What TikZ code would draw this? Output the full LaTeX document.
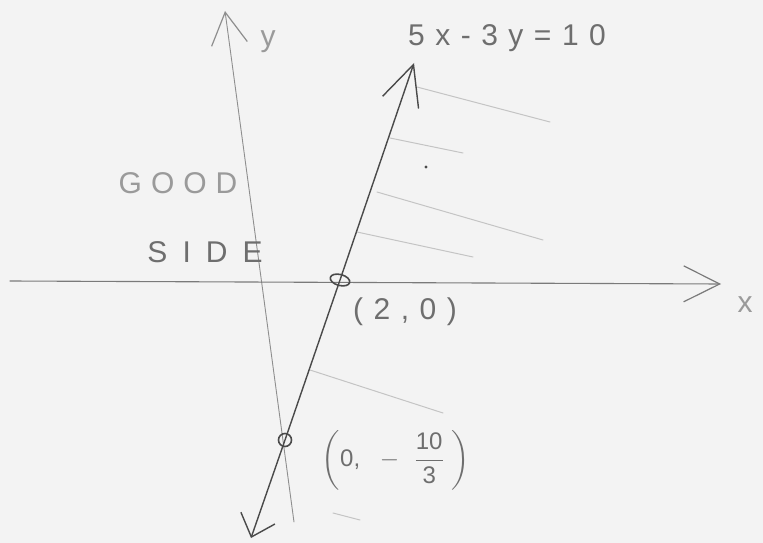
\documentclass[tikz,border=0pt]{standalone}
\usepackage{fontspec}
\usepackage{amsmath}
\setmainfont{Liberation Sans}
\usetikzlibrary{arrows.meta,shapes.geometric}
\definecolor{paper}{HTML}{F3F3F3}
\definecolor{pencil}{HTML}{4A4A4A}
\definecolor{axisgray}{HTML}{7A7A7A}
\definecolor{yaxisgray}{HTML}{8E8E8E}
\definecolor{hatchgray}{HTML}{C4C4C4}
\definecolor{textgray}{HTML}{6E6E6E}
\definecolor{lighttext}{HTML}{9A9A9A}
\begin{document}
\begin{tikzpicture}[x=1pt,y=-1pt,
  xaxisline/.style={draw=axisgray,line width=1.1pt,line cap=round},
  yaxisline/.style={draw=yaxisgray,line width=0.9pt,line cap=round},
  mainline/.style={draw=pencil,line width=1.4pt,line cap=round},
  hatchline/.style={draw=hatchgray,line width=1pt,line cap=round},
  ptmark/.style={ellipse,draw=pencil,line width=1.6pt,inner sep=0pt},
  lbl/.style={inner sep=0pt,font=\fontsize{30}{32}\selectfont\addfontfeatures{LetterSpace=35}},
  ybarb/.tip={Straight Barb[length=32pt,width=36pt,line width=1.2pt]},
  xbarb/.tip={Straight Barb[length=36pt,width=36pt,line width=1.2pt]},
  topbarb/.tip={Straight Barb[length=40pt,width=38pt,line width=1.4pt]},
  botbarb/.tip={Straight Barb[length=20pt,width=36pt,line width=1.4pt]}
]
\fill[paper] (0,0) rectangle (763,543);
\useasboundingbox (0,0) rectangle (763,543);

% coordinates
\coordinate (ytop) at (225,11);
\coordinate (ybot) at (294,522);
\coordinate (xleft) at (10,281);
\coordinate (xright) at (721,284);
\coordinate (ltop) at (414,63);
\coordinate (lbot) at (251,538);

% hatching
\draw[hatchline] (417,87) -- (550,122);
\draw[hatchline] (390,138) -- (463,153);
\draw[hatchline] (377,192) -- (543,240);
\draw[hatchline] (357,232) -- (473,257);
\draw[hatchline] (310,370) -- (443,413);
\draw[hatchline] (333,513) -- (360,520);
\fill[pencil] (426,167) circle (1.6pt);

% axes
\draw[yaxisline,-{ybarb}] (ybot) -- (ytop);
\draw[xaxisline,-{xbarb}] (xleft) -- (xright);

% points
\node[ptmark,rotate=-15,minimum width=20pt,minimum height=11pt] (P1) at (340,280) {};
\node[ptmark,minimum width=13pt,minimum height=13pt] (P2) at (285,440) {};

% main line
\draw[mainline,{botbarb}-{topbarb}] (lbot) -- (P2.center) -- (P1.center) -- (ltop);

% labels
\node[lbl,text=lighttext] (ylab) at (268,42) {y};
\node[lbl,text=lighttext] (xlab) at (745,305) {x};
\node[lbl,text=textgray] (eq) at (507,38) {5x-3y=10};
\node[lbl,text=lighttext,font=\fontsize{30}{32}\selectfont\addfontfeatures{LetterSpace=30}] (good) at (178,183) {GOOD};
\node[lbl,text=textgray,font=\fontsize{30}{32}\selectfont\addfontfeatures{LetterSpace=50}] (side) at (205,252) {SIDE};
\node[lbl,text=textgray] (l1) at (405,312) {(2,0)};
\node[inner sep=0pt,text=textgray,font=\fontsize{24}{26}\selectfont] (l2) at (396,460)
  {$\left(\text{0,}\hspace{14pt}-\hspace{10pt}\dfrac{\text{10}}{\text{3}}\hspace{8pt}\right)$};
\end{tikzpicture}
\end{document}
